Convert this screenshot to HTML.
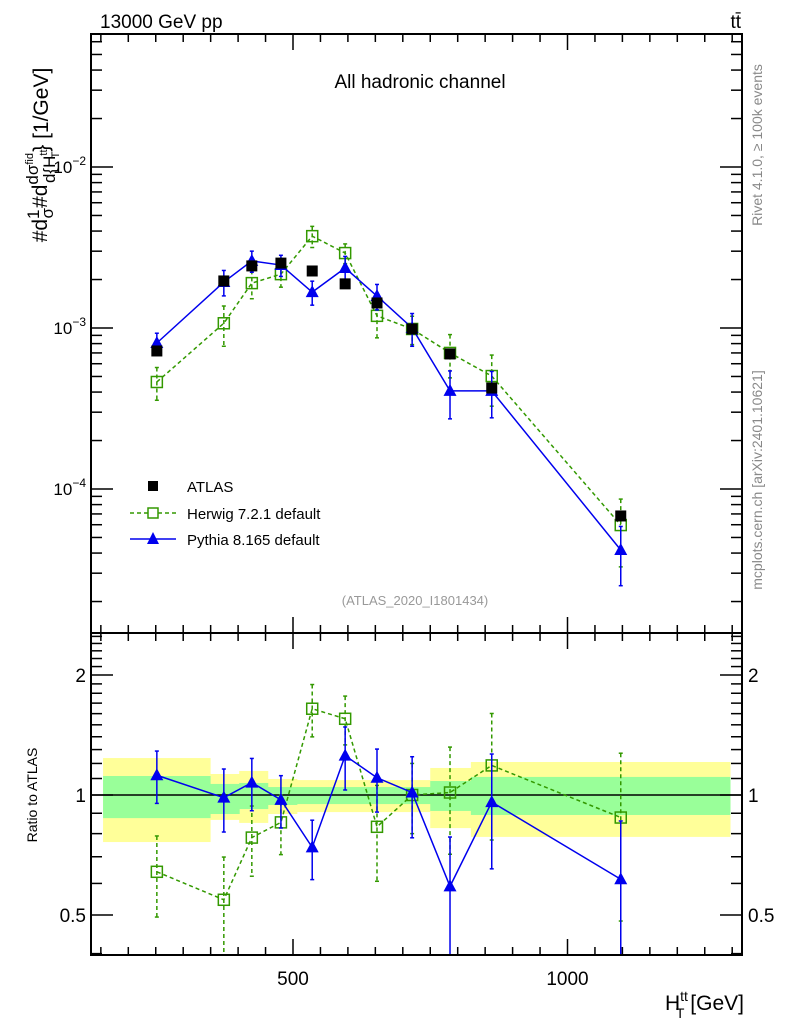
<!DOCTYPE html>
<html><head><meta charset="utf-8">
<style>
html,body{margin:0;padding:0;background:#fff;}
svg{display:block;font-family:"Liberation Sans",Arial,sans-serif;}
</style></head>
<body>
<svg id="chart" width="786" height="1024" viewBox="0 0 786 1024" xmlns="http://www.w3.org/2000/svg">
<text x="100" y="28" font-size="19">13000 GeV pp</text>
<text x="741" y="28" font-size="19" text-anchor="end">tt̄</text>
<text x="420" y="88" font-size="19" text-anchor="middle">All hadronic channel</text>
<text x="415" y="605" font-size="13" fill="#999" text-anchor="middle">(ATLAS_2020_I1801434)</text>
<text transform="translate(762,145) rotate(-90)" font-size="14" fill="#888" text-anchor="middle">Rivet 4.1.0, ≥ 100k events</text>
<text transform="translate(762,480) rotate(-90)" font-size="14" fill="#888" text-anchor="middle">mcplots.cern.ch [arXiv:2401.10621]</text>
<text transform="translate(47,155) rotate(-90)" font-size="21" text-anchor="middle">#d<tspan font-size="17" dy="-8">1</tspan><tspan font-size="17" dx="-9" dy="14">σ</tspan><tspan dy="-6">#d</tspan><tspan font-size="17" dy="-9">dσ</tspan><tspan font-size="11" dy="-5">fid</tspan><tspan font-size="17" dx="-30" dy="22">d{H</tspan><tspan font-size="11" dy="-8">tt</tspan><tspan font-size="11" dx="-9" dy="12">T</tspan><tspan dy="-11">} [1/GeV]</tspan></text>
<text transform="translate(37,795) rotate(-90)" font-size="14" text-anchor="middle">Ratio to ATLAS</text>
<text x="744" y="1010" font-size="21" text-anchor="end">H<tspan font-size="14" dy="-9">tt</tspan><tspan font-size="14" dx="-12" dy="17">T</tspan><tspan dy="-8"> [GeV]</tspan></text>
<g id="g"></g>
</svg>
<script>
const binLo = [154, 349, 402, 454, 507, 565, 625, 685, 750, 824];
const binHi = [349, 402, 454, 507, 565, 625, 685, 750, 824, 1296];
const yelUp = [1.238, 1.129, 1.149, 1.097, 1.09, 1.09, 1.09, 1.09, 1.169, 1.21];
const yelDn = [0.762, 0.866, 0.851, 0.896, 0.906, 0.906, 0.906, 0.906, 0.826, 0.785];
const grnUp = [1.116, 1.066, 1.072, 1.047, 1.047, 1.047, 1.047, 1.047, 1.084, 1.11];
const grnDn = [0.875, 0.896, 0.922, 0.944, 0.949, 0.949, 0.949, 0.949, 0.912, 0.891];
const xVals = [252, 374, 425, 478, 535, 595, 653, 717, 786, 862, 1097];
const atlas = [7.2e-4, 1.96e-3, 2.43e-3, 2.53e-3, 2.26e-3, 1.88e-3, 1.43e-3, 0.986e-3, 6.9e-4, 4.24e-4, 6.8e-5];
const herwig = [4.62e-4, 1.07e-3, 1.9e-3, 2.16e-3, 3.72e-3, 2.92e-3, 1.19e-3, 0.986e-3, 7.0e-4, 5.03e-4, 5.97e-5];
const herwigErr = [0.23, 0.28, 0.2, 0.17, 0.15, 0.14, 0.27, 0.2, 0.3, 0.35, 0.45];
const pythia = [8.07e-4, 1.93e-3, 2.61e-3, 2.46e-3, 1.67e-3, 2.36e-3, 1.58e-3, 1.0e-3, 4.07e-4, 4.07e-4, 4.18e-5];
const pythiaErr = [0.15, 0.18, 0.15, 0.15, 0.17, 0.18, 0.18, 0.23, 0.33, 0.32, 0.4];
const yTickExp = [-4, -3, -2];
const ratioMajor = [0.5, 1, 2];
const xMajor = [500, 1000];

const L=91,R=742,T=34,M=633,B=955;
const X=v=>293+(v-500)*0.549;
const Y=v=>328-(Math.log10(v)+3)*161;
const YR=r=>795-Math.log10(r)*398.6;
const NS="http://www.w3.org/2000/svg";
const g=document.getElementById('g');
function el(tag,attrs,parent){const e=document.createElementNS(NS,tag);for(const k in attrs)e.setAttribute(k,attrs[k]);(parent||g).appendChild(e);return e;}
function grp(name){const e=el('g',{});return e;}

const bands=grp('ratio-bands');
el('clipPath',{id:'cr'},g); el('rect',{x:L,y:M,width:R-L,height:B-M},document.getElementById('cr'));
el('clipPath',{id:'cm'},g); el('rect',{x:L,y:T,width:R-L,height:M-T},document.getElementById('cm'));
bands.setAttribute('clip-path','url(#cr)');
for(let i=0;i<binLo.length;i++){
  const y=el('rect',{x:X(binLo[i]),y:YR(yelUp[i]),width:X(binHi[i])-X(binLo[i])+0.5,height:YR(yelDn[i])-YR(yelUp[i]),fill:'#ffff99'},bands);
  
  
}
for(let i=0;i<binLo.length;i++){
  const r=el('rect',{x:X(binLo[i]),y:YR(grnUp[i]),width:X(binHi[i])-X(binLo[i])+0.5,height:YR(grnDn[i])-YR(grnUp[i]),fill:'#99ff99'},bands);
  
  
}
el('line',{x1:L,x2:R,y1:YR(1),y2:YR(1),stroke:'#000','stroke-width':1.5});

function series(name,vals,errs,color,dash,marker,ratio){
  const s=grp(name);
  s.setAttribute('clip-path',ratio?'url(#cr)':'url(#cm)');
  const f=ratio?(i,v)=>YR(v/atlas[i]):(i,v)=>Y(v);
  if(marker!=='sq'){
    let pts=vals.map((v,i)=>X(xVals[i])+','+f(i,v)).join(' ');
    el('polyline',{points:pts,fill:'none',stroke:color,'stroke-width':1.5,'stroke-dasharray':dash},s);
  }
  vals.forEach((v,i)=>{
    const x=X(xVals[i]);
    if(errs){
      const up=f(i,v*(1+errs[i])),dn=f(i,v*Math.max(1-errs[i],0.01));
      el('line',{x1:x,x2:x,y1:up,y2:dn,stroke:color,'stroke-width':1.5,'stroke-dasharray':dash},s);
      el('line',{x1:x-2,x2:x+2,y1:up,y2:up,stroke:color,'stroke-width':1.5},s);
      el('line',{x1:x-2,x2:x+2,y1:dn,y2:dn,stroke:color,'stroke-width':1.5},s);
    }
    const y=f(i,v);
    let m;
    if(marker==='sq') m=el('rect',{x:x-5.5,y:y-5.5,width:11,height:11,fill:'#000'},s);
    else if(marker==='open') m=el('rect',{x:x-5.5,y:y-5.5,width:11,height:11,fill:'none',stroke:color,'stroke-width':1.5},s);
    else m=el('polygon',{points:`${x},${y-7} ${x-6.5},${y+5} ${x+6.5},${y+5}`,fill:color},s);
    
    
  });
}
series('herwig',herwig,herwigErr,'#339900','4,3','open',false);
series('pythia',pythia,pythiaErr,'#0000ee','','tri',false);
series('atlas',atlas,null,'#000','','sq',false);
series('herwig-ratio',herwig,herwigErr,'#339900','4,3','open',true);
series('pythia-ratio',pythia,pythiaErr,'#0000ee','','tri',true);

const fr=grp('frames');
el('rect',{x:L,y:T,width:R-L,height:M-T,fill:'none',stroke:'#000','stroke-width':2},fr);
el('rect',{x:L,y:M,width:R-L,height:B-M,fill:'none',stroke:'#000','stroke-width':2},fr);
const ax=grp('x-axis');
for(let v=150;v<=1300;v+=50){
  const x=X(v); if(x<L||x>R)continue;
  const maj=xMajor.includes(v), len=maj?16:8;
  [[T,1],[M,-1],[M,1],[B,-1]].forEach(([y0,d])=>el('line',{x1:x,x2:x,y1:y0,y2:y0+d*len,stroke:'#000','stroke-width':1.5},ax));
}
xMajor.forEach(v=>{const t=el('text',{x:X(v),y:985,'font-size':19,'text-anchor':'middle'},ax);t.textContent=v;});
const ay=grp('y-axis');
for(let e=-5;e<=-1;e++)for(let k=1;k<=9;k++){
  const y=Y(k*Math.pow(10,e)); if(y<T||y>M)continue;
  const len=k===1?22:11;
  el('line',{x1:L,x2:L+len,y1:y,y2:y,stroke:'#000','stroke-width':1.5},ay);
  el('line',{x1:R,x2:R-len,y1:y,y2:y,stroke:'#000','stroke-width':1.5},ay);
}
yTickExp.forEach(e=>{const t=el('text',{x:86,y:Y(Math.pow(10,e))+6,'font-size':17,'text-anchor':'end'},ay);t.innerHTML='10<tspan font-size="12" dy="-8">'+(e<0?'−'+(-e):e)+'</tspan>';});
const ar=grp('ratio-y-axis');
for(let r=0.4;r<=2.55;r+=0.1){
  const rr=Math.round(r*10)/10,y=YR(rr); if(y<M||y>B)continue;
  const maj=ratioMajor.includes(rr), len=maj?22:11;
  el('line',{x1:L,x2:L+len,y1:y,y2:y,stroke:'#000','stroke-width':1.5},ar);
  el('line',{x1:R,x2:R-len,y1:y,y2:y,stroke:'#000','stroke-width':1.5},ar);
}
ratioMajor.forEach(r=>{
  const a=el('text',{x:86,y:YR(r)+7,'font-size':19,'text-anchor':'end'},ar);a.textContent=r;
  const b=el('text',{x:748,y:YR(r)+7,'font-size':19},ar);b.textContent=r;
});
const lg=grp('legend');
const lab=['ATLAS','Herwig 7.2.1 default','Pythia 8.165 default'];
const ly=[486,513,539];
el('rect',{x:148,y:481,width:10,height:10,fill:'#000'},lg);
el('line',{x1:130,x2:176,y1:513,y2:513,stroke:'#339900','stroke-width':1.5,'stroke-dasharray':'4,3'},lg);
el('rect',{x:148,y:508,width:10,height:10,fill:'#fff',stroke:'#339900','stroke-width':1.5},lg);
el('line',{x1:130,x2:176,y1:539,y2:539,stroke:'#0000ee','stroke-width':1.5},lg);
el('polygon',{points:'153,532 147,544 159,544',fill:'#0000ee'},lg);
lab.forEach((s,i)=>{const t=el('text',{x:187,y:ly[i]+6,'font-size':15},lg);t.textContent=s;
 
 });
</script>
</body></html>
